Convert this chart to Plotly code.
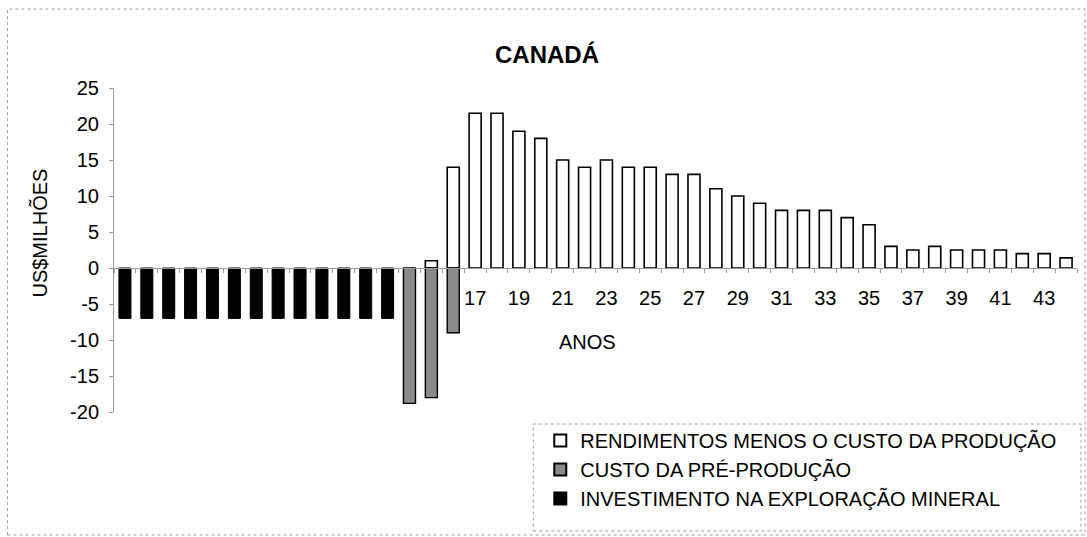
import plotly.graph_objects as go

# ---- data ----
anos_exploracao = [1, 2, 3, 4, 5, 6, 7, 8, 9, 10, 11, 12, 13]
investimento_exploracao = [-7, -7, -7, -7, -7, -7, -7, -7, -7, -7, -7, -7, -7]

anos_pre = [14, 15, 16]
custo_pre_producao = [-18.8, -18, -9]

anos_rend = [15, 16, 17, 18, 19, 20, 21, 22, 23, 24, 25, 26, 27, 28, 29,
             30, 31, 32, 33, 34, 35, 36, 37, 38, 39, 40, 41, 42, 43, 44]
rendimentos = [1, 14, 21.5, 21.5, 19, 18, 15, 14, 15, 14, 14, 13, 13, 11, 10,
               9, 8, 8, 8, 7, 6, 3, 2.5, 3, 2.5, 2.5, 2.5, 2, 2, 1.4]

x_ticks = [17, 19, 21, 23, 25, 27, 29, 31, 33, 35, 37, 39, 41, 43]
y_ticks = [-20, -15, -10, -5, 0, 5, 10, 15, 20, 25]

FONT = "Liberation Sans, Arial, sans-serif"
W, H = 1087, 537
ML, MR, MT, MB = 113.5, 10, 88, 125
PW = W - ML - MR
PH = H - MT - MB

def px_x(px):
    return (px - ML) / PW

def px_y(py):
    return (H - MB - py) / PH

fig = go.Figure()
fig.add_trace(go.Bar(
    x=anos_rend, y=rendimentos, name="RENDIMENTOS MENOS O CUSTO DA PRODUÇÃO",
    marker=dict(color="white", line=dict(color="black", width=1.6)),
))
fig.add_trace(go.Bar(
    x=anos_pre, y=custo_pre_producao, name="CUSTO DA PRÉ-PRODUÇÃO",
    marker=dict(color="#8a8a8a", line=dict(color="black", width=1.4)),
))
fig.add_trace(go.Bar(
    x=anos_exploracao, y=investimento_exploracao, name="INVESTIMENTO NA EXPLORAÇÃO MINERAL",
    marker=dict(color="black", line=dict(color="black", width=1)),
))

all_years = sorted(set(anos_exploracao + anos_pre + anos_rend))
xmin, xmax = all_years[0] - 0.5, all_years[-1] + 0.5
ymin, ymax = y_ticks[0], y_ticks[-1]
zero_pos = (0 - ymin) / (ymax - ymin)

fig.update_layout(
    width=W, height=H,
    margin=dict(l=ML, r=MR, t=MT, b=MB),
    paper_bgcolor="white", plot_bgcolor="white",
    barmode="relative", bargap=0.45,
    font=dict(family=FONT, size=20, color="black"),
    title=dict(text="<b>CANADÁ</b>", font=dict(family=FONT, size=24, color="black"),
               x=547 / W, xanchor="center", y=1 - 55 / H, yanchor="middle",
               xref="container", yref="container"),
    xaxis=dict(
        range=[xmin, xmax], anchor="free", position=zero_pos,
        tickmode="array", tickvals=x_ticks, ticktext=[str(v) for v in x_ticks],
        ticks="", showline=True, linecolor="#9a9a9a", linewidth=1,
        showgrid=False, zeroline=False, ticklabelstandoff=12,
        tickfont=dict(family=FONT, size=20),
        minor=dict(tickmode="array", tickvals=[a - 0.5 for a in all_years] + [xmax],
                   ticks="outside", ticklen=4, tickcolor="#9a9a9a", showgrid=False),
    ),
    yaxis=dict(
        range=[ymin, ymax], tickmode="array", tickvals=y_ticks,
        ticktext=[str(v) for v in y_ticks],
        ticks="outside", ticklen=4, tickcolor="#9a9a9a",
        showline=True, linecolor="#9a9a9a", linewidth=1,
        showgrid=False, zeroline=False, ticklabelstandoff=6,
        tickfont=dict(family=FONT, size=20),
    ),
    legend=dict(
        x=px_x(540), y=px_y(421), xanchor="left", yanchor="top",
        traceorder="normal", bgcolor="rgba(0,0,0,0)", borderwidth=0,
        font=dict(family=FONT, size=20), itemsizing="constant",
        tracegroupgap=5,
    ),
    showlegend=True,
)

fig.add_annotation(text="ANOS", xref="paper", yref="y", x=px_x(587), y=0,
                   yshift=-74, showarrow=False, font=dict(family=FONT, size=20),
                   xanchor="center", yanchor="middle")
fig.add_annotation(text="US$MILHÕES", xref="paper", yref="paper", x=px_x(38),
                   y=px_y(233), textangle=-90, showarrow=False,
                   font=dict(family=FONT, size=20), xanchor="center", yanchor="middle")

# legend frame and outer chart frame (dotted)
fig.add_shape(type="rect", xref="paper", yref="paper",
              x0=px_x(533), x1=px_x(1081), y0=px_y(531), y1=px_y(424),
              line=dict(color="#9a9a9a", width=1, dash="dot"), layer="below")
fig.add_shape(type="rect", xref="paper", yref="paper",
              x0=px_x(7), x1=px_x(1085), y0=px_y(535), y1=px_y(9),
              line=dict(color="#9a9a9a", width=1, dash="dot"), layer="below")

fig.write_html("out.html", config={"displayModeBar": False},
               post_script="document.body.style.margin='0';document.body.style.overflow='hidden';")
